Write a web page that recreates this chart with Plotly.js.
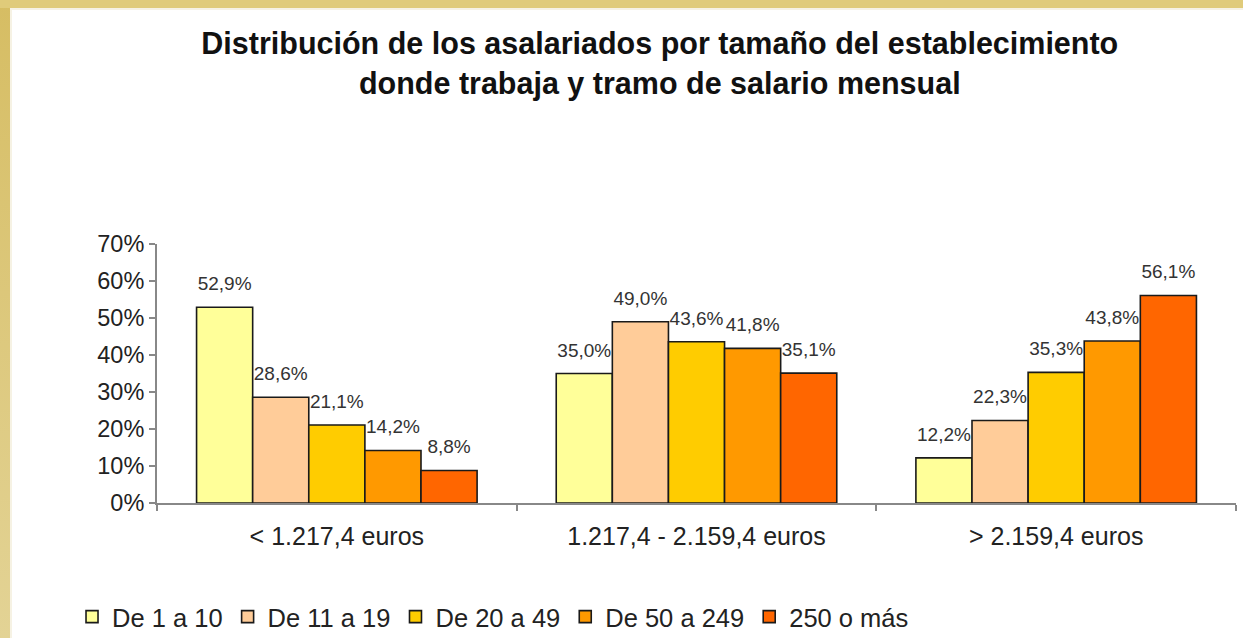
<!DOCTYPE html>
<html>
<head>
<meta charset="utf-8">
<script src="https://cdn.plot.ly/plotly-3.0.1.min.js"></script>
<style>
  html, body { margin: 0; padding: 0; background: #fff; }
  #frame { position: relative; width: 1243px; height: 638px; background: linear-gradient(to bottom, #d6bd63, #e3d395); overflow: hidden; }
  #topbar { position: absolute; left: 0; top: 0; width: 1243px; height: 8px; background: #e0cb7a; }
  #inner { position: absolute; left: 10px; top: 8px; width: 1233px; height: 630px; background: #fff; box-shadow: inset 2px 2px 0 #f6f2e4; }
  #chart { position: absolute; left: 0; top: 0; width: 1233px; height: 630px; }
</style>
</head>
<body>
<div id="frame"><div id="topbar"></div><div id="inner"><div id="chart"></div></div></div>
<script>
const categories = ["< 1.217,4 euros", "1.217,4 - 2.159,4 euros", "> 2.159,4 euros"];
const seriesNames = ["De 1 a 10", "De 11 a 19", "De 20 a 49", "De 50 a 249", "250 o más"];
const de1a10 = [52.9, 35.0, 12.2];
const de11a19 = [28.6, 49.0, 22.3];
const de20a49 = [21.1, 43.6, 35.3];
const de50a249 = [14.2, 41.8, 43.8];
const de250oMas = [8.8, 35.1, 56.1];
const yTickVals = [0, 10, 20, 30, 40, 50, 60, 70];
const yTickText = ["0%", "10%", "20%", "30%", "40%", "50%", "60%", "70%"];

const seriesValues = [de1a10, de11a19, de20a49, de50a249, de250oMas];
const colors = ["#FFFF99", "#FFCC99", "#FFCC00", "#FF9900", "#FF6600"];
const fmt = v => v.toFixed(1).replace('.', ',') + '%';
const FONT = 'Liberation Sans, Arial, sans-serif';

const bars = seriesValues.map((vals, i) => ({
  type: 'bar',
  name: seriesNames[i],
  x: categories,
  y: vals,
  offsetgroup: 'g' + i,
  marker: { color: colors[i], line: { color: '#1a1a1a', width: 1.6 } },
  hoverinfo: 'none'
}));

const labels = seriesValues.map((vals, i) => ({
  type: 'scatter',
  mode: 'markers+text',
  name: seriesNames[i],
  showlegend: false,
  x: categories,
  y: vals,
  offsetgroup: 'g' + i,
  text: vals.map(fmt),
  textposition: 'top center',
  textfont: { family: FONT, size: 19, color: '#333' },
  marker: { size: 18, opacity: 0 },
  cliponaxis: false,
  hoverinfo: 'none'
}));

const layout = {
  width: 1233, height: 630,
  margin: { l: 147, r: 7, t: 236, b: 135, autoexpand: false },
  paper_bgcolor: 'rgba(0,0,0,0)',
  plot_bgcolor: 'rgba(0,0,0,0)',
  font: { family: FONT, color: '#222' },
  title: {
    text: '<b>Distribución de los asalariados por tamaño del establecimiento<br>donde trabaja y tramo de salario mensual</b>',
    font: { family: FONT, size: 30.5, color: '#111' },
    xref: 'container', x: 0.527, xanchor: 'center',
    yref: 'container', y: 1 - 46 / 630, yanchor: 'middle'
  },
  barmode: 'group',
  bargap: 0.22,
  bargroupgap: 0,
  scattermode: 'group',
  scattergap: 0.22,
  showlegend: true,
  legend: {
    orientation: 'h',
    xref: 'container', x: 0.0503, xanchor: 'left',
    yref: 'container', y: 1 - 609 / 630, yanchor: 'middle',
    font: { family: FONT, size: 25.5, color: '#222' },
    itemwidth: 30,
    traceorder: 'normal'
  },
  xaxis: {
    type: 'category',
    automargin: false,
    showline: true, linecolor: '#888', linewidth: 2,
    ticks: 'outside', tickson: 'boundaries', ticklen: 6, tickcolor: '#888', tickwidth: 2,
    ticklabelstandoff: 10,
    tickfont: { family: FONT, size: 25, color: '#222' },
    showgrid: false, zeroline: false, fixedrange: true
  },
  yaxis: {
    automargin: false,
    range: [0, 70],
    tickvals: yTickVals, ticktext: yTickText,
    showline: true, linecolor: '#888', linewidth: 2,
    ticks: 'outside', ticklen: 6, tickcolor: '#888', tickwidth: 2,
    tickfont: { family: FONT, size: 23.5, color: '#222' },
    showgrid: false, zeroline: false, fixedrange: true
  }
};

Plotly.newPlot('chart', bars.concat(labels), layout, { staticPlot: true });
</script>
</body>
</html>
